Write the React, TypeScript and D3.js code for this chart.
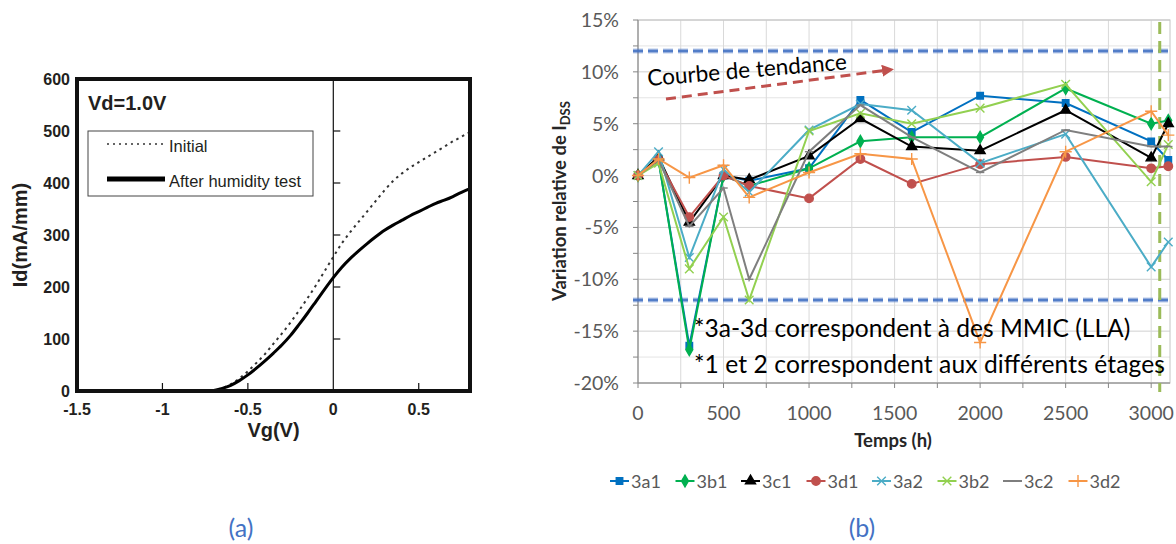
import React from 'react';
import * as d3 from 'd3';

// ---------- panel (a): Id-Vg transfer curves ----------
const vgValues = [-0.75, -0.7, -0.65, -0.6, -0.55, -0.5, -0.45, -0.4, -0.35, -0.3, -0.25, -0.2, -0.15, -0.1, -0.05, 0,
  0.05, 0.1, 0.15, 0.2, 0.25, 0.3, 0.35, 0.4, 0.45, 0.5, 0.55, 0.6, 0.65, 0.7, 0.75, 0.8];
const idInitial = [0, 1, 6, 13, 24, 38, 54, 71, 91, 111, 132, 155, 179, 204, 231, 258,
  284, 306, 326, 346, 366, 386, 404, 418, 430, 440, 450, 460, 470, 480, 489, 498];
const idAfterHumidity = [0, 1, 5, 11, 20, 31, 44, 58, 73, 89, 107, 128, 150, 173, 196, 218,
  238, 255, 270, 284, 297, 309, 319, 328, 337, 345, 353, 361, 367, 374, 382, 389];
const idTicks = [0, 100, 200, 300, 400, 500, 600];
const vgTicks = [-1.5, -1, -0.5, 0, 0.5];

// ---------- panel (b): relative IDSS variation vs time ----------
const hours = [0, 120, 300, 500, 650, 1000, 1300, 1600, 2000, 2500, 3000, 3100];
const v3a1 = [0, 1.5, -16.4, 0, -0.5, 0.7, 7.3, 4.2, 7.7, 7.0, 3.3, 1.5];
const v3b1 = [0, 1.5, -16.8, 0, -1.0, 0.7, 3.3, 3.7, 3.7, 8.4, 5.0, 5.3];
const v3c1 = [0, 1.8, -4.5, 0, -0.4, 1.9, 5.5, 2.8, 2.4, 6.3, 1.7, 5.0];
const v3d1 = [0, 1.5, -4.0, 0, -1.0, -2.2, 1.6, -0.8, 1.1, 1.8, 0.7, 0.9];
const v3a2 = [0, 2.3, -7.9, 0.6, -1.6, 4.4, 6.9, 6.3, 1.2, 4.0, -8.8, -6.4];
const v3b2 = [0, 1.2, -9.0, -4.0, -12.0, 4.3, 6.0, 5.0, 6.5, 8.8, -0.6, 3.0];
const v3c2 = [0, 1.5, -4.9, -1.2, -10.0, 2.3, 6.8, 3.7, 0.3, 4.4, 2.8, 2.8];
const v3d2 = [0, 1.6, -0.2, 1.0, -2.1, 0.3, 2.1, 1.6, -16.1, 2.3, 6.2, 3.9];
const seriesNames = ['3a1', '3b1', '3c1', '3d1', '3a2', '3b2', '3c2', '3d2'];
const seriesValues = [v3a1, v3b1, v3c1, v3d1, v3a2, v3b2, v3c2, v3d2];
const seriesColors = ['#0070C0', '#00B050', '#000000', '#C0504D', '#4BACC6', '#92D050', '#7F7F7F', '#F79646'];
const pctTicks = [15, 10, 5, 0, -5, -10, -15, -20];
const hourTicks = [0, 500, 1000, 1500, 2000, 2500, 3000];
const limitPct = [12, -12];
const endOfTestHour = 3050;

const symbolDash = {
  draw(ctx: any, size: number) {
    const r = Math.sqrt(size) / 2;
    ctx.moveTo(-r, 0);
    ctx.lineTo(r, 0);
  },
};
const seriesSymbols: any[] = [d3.symbolSquare, d3.symbolDiamond, d3.symbolTriangle, d3.symbolCircle,
  d3.symbolTimes, d3.symbolTimes, symbolDash, d3.symbolPlus];
const symbolSizes = [42, 40, 44, 56, 50, 50, 70, 50];
const filledSymbol = [true, true, true, true, false, false, false, false];

const PanelA = () => {
  const x = d3.scaleLinear().domain([-1.5, 0.8]).range([77, 470]);
  const y = d3.scaleLinear().domain([0, 600]).range([391, 79]);
  const line = d3.line<number>().x((_, i) => x(vgValues[i])).y(d => y(d)).curve(d3.curveMonotoneX);
  const font = 'Liberation Sans, Arial, sans-serif';
  return (
    <g fontFamily={font}>
      {/* inner Vg=0 axis with ticks */}
      <line x1={x(0)} x2={x(0)} y1={y(600)} y2={y(0)} stroke="#111" strokeWidth={1.2} />
      {idTicks.slice(1, -1).map(t => (
        <line key={t} x1={x(0)} x2={x(0) + 7} y1={y(t)} y2={y(t)} stroke="#111" strokeWidth={1.2} />
      ))}
      {[-1, -0.5, 0.5].map(t => (
        <line key={t} x1={x(t)} x2={x(t)} y1={y(0)} y2={y(0) - 8} stroke="#111" strokeWidth={1.2} />
      ))}
      <path d={line(idInitial) || ''} fill="none" stroke="#333" strokeWidth={2} strokeDasharray="2.5,4" />
      <path d={line(idAfterHumidity) || ''} fill="none" stroke="#000" strokeWidth={3} />
      {/* frame */}
      <rect x={x(-1.5)} y={y(600)} width={x(0.8) - x(-1.5)} height={y(0) - y(600)} fill="none" stroke="#111" strokeWidth={4} />
      {idTicks.map(t => (
        <text key={t} x={70} y={y(t) + 6} textAnchor="end" fontSize={16} fontWeight="bold" fill="#231f20">{t}</text>
      ))}
      {vgTicks.map(t => (
        <text key={t} x={x(t)} y={415} textAnchor="middle" fontSize={16} fontWeight="bold" fill="#231f20">{t}</text>
      ))}
      <text x={x(-0.35)} y={437} textAnchor="middle" fontSize={20} fontWeight="bold" fill="#231f20">Vg(V)</text>
      <text transform={`translate(27,${y(300)}) rotate(-90)`} textAnchor="middle" fontSize={20} fontWeight="bold" fill="#231f20">Id(mA/mm)</text>
      <text x={88} y={110} fontSize={20} fontWeight="bold" fill="#231f20">Vd=1.0V</text>
      {/* legend */}
      <rect x={88} y={131} width={225} height={65} fill="#fff" stroke="#444" strokeWidth={1} />
      <line x1={107} x2={164} y1={144} y2={144} stroke="#333" strokeWidth={1.5} strokeDasharray="2,4" />
      <text x={169} y={152} fontSize={16.5} fill="#231f20">Initial</text>
      <line x1={107} x2={165} y1={179} y2={179} stroke="#000" strokeWidth={5} />
      <text x={169} y={187} fontSize={16.5} fill="#231f20">After humidity test</text>
      <text x={241} y={537} textAnchor="middle" fontSize={25} fill="#4472C4" fontFamily="Lato, sans-serif">(a)</text>
    </g>
  );
};

const PanelB = () => {
  const x = d3.scaleLinear().domain([0, 3110]).range([638, 1170]);
  const y = d3.scaleLinear().domain([-20, 15]).range([383, 20]);
  const lineGen = d3.line<number>().x((_, i) => x(hours[i])).y(d => y(d));
  const gridH = d3.range(-20, 15.01, 2.5);
  const gridV = d3.range(0, 3001, 250);
  const legendStart = 610;
  const legendStep = 65.5;
  const legendY = 481;
  const marker = (i: number, px: number, py: number, key: string) => (
    <path key={key} transform={`translate(${px},${py})`}
      d={d3.symbol().type(seriesSymbols[i]).size(symbolSizes[i])() || ''}
      fill={filledSymbol[i] ? seriesColors[i] : 'none'} stroke={seriesColors[i]} strokeWidth={1.4} />
  );
  return (
    <g fontFamily="Lato, 'Open Sans', sans-serif">
      {gridH.map(t => (
        <line key={'h' + t} x1={x(0)} x2={1170} y1={y(t)} y2={y(t)} stroke={t % 5 === 0 ? '#d0d0d0' : '#e4e4e4'} strokeWidth={1} />
      ))}
      {gridV.map(t => (
        <line key={'v' + t} x1={x(t)} x2={x(t)} y1={y(15)} y2={y(-20)} stroke="#d9d9d9" strokeWidth={1} />
      ))}
      <rect x={x(0)} y={y(15)} width={1170 - x(0)} height={y(-20) - y(15)} fill="none" stroke="#c4c4c4" strokeWidth={1} />
      <line x1={x(0)} x2={x(0)} y1={y(15)} y2={y(-20)} stroke="#868686" strokeWidth={1} />
      <line x1={x(0)} x2={1170} y1={y(-20)} y2={y(-20)} stroke="#868686" strokeWidth={1} />
      {gridH.map(t => (
        <line key={'th' + t} x1={x(0) - 5} x2={x(0)} y1={y(t)} y2={y(t)} stroke="#868686" />
      ))}
      {gridV.map(t => (
        <line key={'tv' + t} x1={x(t)} x2={x(t)} y1={y(-20)} y2={y(-20) + 5} stroke="#868686" />
      ))}
      {pctTicks.map(t => (
        <text key={'pl' + t} x={619} y={y(t) + 7} textAnchor="end" fontSize={19.5} fill="#595959">{t}%</text>
      ))}
      {hourTicks.map(t => (
        <text key={'hl' + t} x={x(t)} y={420} textAnchor="middle" fontSize={19.5} fill="#595959">{t}</text>
      ))}
      <text x={893} y={447} textAnchor="middle" fontSize={18.5} fontWeight="bold" fill="#262626">Temps (h)</text>
      <text transform={`translate(566,201) rotate(-90)`} textAnchor="middle" fontSize={18.5} fontWeight="bold" fill="#262626">
        Variation relative de I<tspan fontSize={13} dy={4}>DSS</tspan>
      </text>

      {/* limits and trend annotation */}
      {limitPct.map(p => (
        <g key={'lim' + p}>
          <line x1={633} x2={1172} y1={y(p)} y2={y(p)} stroke="#4472C4" strokeWidth={6} strokeDasharray="10,5" opacity={0.18} />
          <line x1={633} x2={1172} y1={y(p)} y2={y(p)} stroke="#4472C4" strokeWidth={3} strokeDasharray="10,5" opacity={0.9} />
        </g>
      ))}
      <line x1={x(endOfTestHour)} x2={x(endOfTestHour)} y1={22} y2={392} stroke="#9BBB59" strokeWidth={3} strokeDasharray="12,7" />
      <text transform="translate(648,86) rotate(-4.8)" fontSize={22.5} fill="#000">Courbe de tendance</text>
      <defs>
        <marker id="arrowRed" viewBox="0 0 10 10" refX={5} refY={5} markerWidth={4} markerHeight={4} orient="auto">
          <path d="M0,0 L10,5 L0,10 z" fill="#C0504D" />
        </marker>
      </defs>
      <line x1={666} y1={99} x2={888} y2={70} stroke="#C0504D" strokeWidth={3} strokeDasharray="10,6" markerEnd="url(#arrowRed)" />

      {/* series */}
      {seriesValues.map((vals, i) => (
        <g key={seriesNames[i]}>
          <path d={lineGen(vals) || ''} fill="none" stroke={seriesColors[i]} strokeWidth={2} />
          {vals.map((v, j) => marker(i, x(hours[j]), y(v), seriesNames[i] + j))}
        </g>
      ))}

      <text x={694} y={337} fontSize={24.6} fill="#000">*3a-3d correspondent à des MMIC (LLA)</text>
      <text x={694} y={373} fontSize={24.6} fill="#000" textLength={471} lengthAdjust="spacing">*1 et 2 correspondent aux différents étages</text>

      {/* legend */}
      {seriesNames.map((name, i) => {
        const lx = legendStart + i * legendStep;
        return (
          <g key={'lg' + name}>
            <line x1={lx} x2={lx + 19} y1={legendY} y2={legendY} stroke={seriesColors[i]} strokeWidth={2} />
            {marker(i, lx + 9.5, legendY, 'lm' + name)}
            <text x={lx + 21} y={legendY + 6.5} fontSize={18} fill="#595959">{name}</text>
          </g>
        );
      })}
      <text x={862} y={537} textAnchor="middle" fontSize={25} fill="#4472C4">(b)</text>
    </g>
  );
};

const App = () => (
  <svg width={1176} height={544} style={{ position: 'absolute', left: 0, top: 0, background: '#fff' }}>
    <rect width={1176} height={544} fill="#fff" />
    <PanelA />
    <PanelB />
  </svg>
);

export default App;
